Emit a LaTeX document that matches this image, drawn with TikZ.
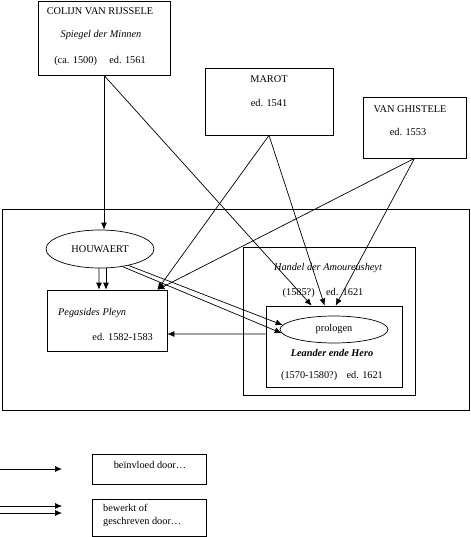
\documentclass[tikz,border=0pt]{standalone}
\usepackage{fontspec}
\setmainfont{Liberation Serif}
\usetikzlibrary{arrows.meta,shapes.geometric}
\begin{document}
\begin{tikzpicture}[
    x=0.03cm, y=-0.03cm,
    font=\fontsize{8.8}{10}\selectfont,
    box/.style={draw=black, line width=0.6pt, rectangle, inner sep=0pt},
    ell/.style={draw=black, line width=0.6pt, ellipse, inner sep=0pt},
    arrow/.style={-{Latex[length=2.1mm,width=1.8mm]}, line width=0.6pt, black}
]
\useasboundingbox (0,0) rectangle (470,537);

% Sources
\node[box, minimum width=3.96cm, minimum height=2.22cm] (colijn) at (104,38) {};
\node (colijnName) at (100,11) {COLIJN VAN RIJSSELE};
\node (colijnWork) at (101,35) {\itshape Spiegel der Minnen};
\node (colijnDate) at (100,61) {(ca. 1500)\hspace{1.2em}ed. 1561};

\node[box, minimum width=3.84cm, minimum height=2.01cm] (marot) at (269,101.5) {};
\node (marotName) at (269,79) {MAROT};
\node (marotDate) at (269,103) {ed. 1541};

\node[box, minimum width=3.09cm, minimum height=1.83cm] (ghistele) at (414.5,127.5) {};
\node (ghisteleName) at (410,109) {VAN GHISTELE};
\node (ghisteleDate) at (408,132) {ed. 1553};

% Frame
\node[box, minimum width=14.01cm, minimum height=6.03cm] (frame) at (235.5,309.5) {};

% Houwaert
\node[ell, minimum width=3.24cm, minimum height=1.14cm] (houwaert) at (100,249) {HOUWAERT};

\node[box, minimum width=3.6cm, minimum height=1.83cm] (pegasides) at (107,320.5) {};
\node[anchor=west] (pegName) at (54,313) {\itshape Pegasides Pleyn};
\node[anchor=east] (pegDate) at (157,337) {ed. 1582-1583};

% Handel / Leander
\node[box, minimum width=5.16cm, minimum height=4.44cm] (handel) at (329,321) {};
\node (handelName) at (328,268) {\itshape Handel der Amoureusheyt};
\node (handelDate) at (323,293) {(1585?)\hspace{1.1em}ed.\ \,1621};

\node[box, minimum width=4.08cm, minimum height=2.43cm] (leander) at (334,346.5) {};
\node[ell, minimum width=3.24cm, minimum height=0.81cm] (prologen) at (334,329.5) {prologen};
\node (leanderName) at (332,353) {\bfseries\itshape Leander ende Hero};
\node (leanderDate) at (332,376) {(1570-1580?)\hspace{0.9em}ed. 1621};

% Legend
\coordinate (legA) at (0,469);
\coordinate (legB) at (62,469);
\coordinate (legC) at (0,506);
\coordinate (legD) at (62,506);
\coordinate (legE) at (0,513);
\coordinate (legF) at (62,513);
\node[box, minimum width=3.42cm, minimum height=0.9cm] (legInfl) at (149,469) {};
\node (legInflText) at (150,465) {beïnvloed door…};
\node[box, minimum width=3.42cm, minimum height=1.11cm] (legWork) at (149,517.5) {};
\node[anchor=west] (legWorkA) at (99,508) {bewerkt of};
\node[anchor=west] (legWorkB) at (99,522) {geschreven door…};

% Arrows
\draw[arrow] (colijn.south) -- (colijn.south |- houwaert.north);
\draw[arrow] (colijn.south) -- ([xshift=1.38cm]leander.north west);
\draw[arrow] (marot.south) -- ([xshift=-0.3cm]pegasides.north east);
\draw[arrow] (marot.south) -- ([xshift=1.77cm]leander.north west);
\draw[arrow] (ghistele.south) -- ([xshift=-0.3cm]pegasides.north east);
\draw[arrow] (ghistele.south) -- ([xshift=2.1cm]leander.north west);
\draw[arrow] ([xshift=-0.03cm]houwaert.south) -- ([xshift=-0.24cm]pegasides.north);
\draw[arrow] ([xshift=0.18cm]houwaert.south) -- ([xshift=-0.03cm]pegasides.north);
\draw[arrow] (houwaert.-30) -- (prologen.175);
\draw[arrow] (houwaert.-38) -- (prologen.184);
\draw[arrow] ([yshift=0.375cm]leander.west) -- ([yshift=-0.405cm]pegasides.east);

\draw[arrow] (legA) -- (legB);
\draw[arrow] (legC) -- (legD);
\draw[arrow] (legE) -- (legF);

\end{tikzpicture}
\end{document}
